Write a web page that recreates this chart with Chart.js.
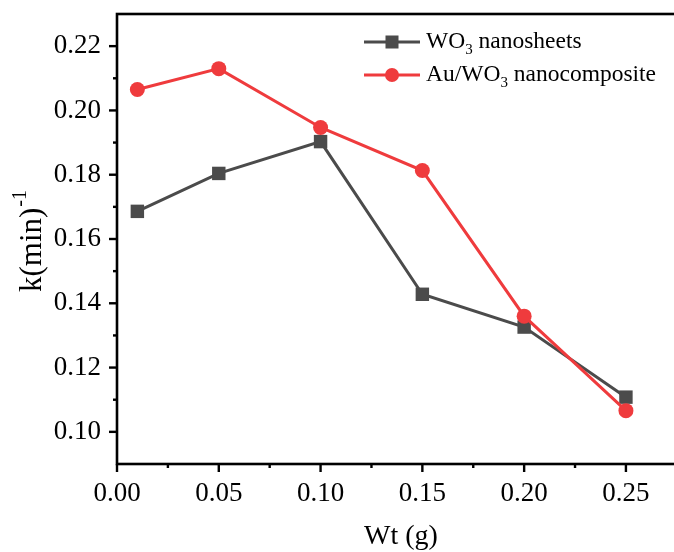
<!DOCTYPE html>
<html>
<head>
<meta charset="utf-8">
<script src="https://cdn.jsdelivr.net/npm/chart.js@4/dist/chart.umd.min.js"></script>
<style>
html,body{margin:0;padding:0;background:#fff;overflow:hidden;}
#wrap{width:700px;height:552px;}
</style>
</head>
<body>
<div id="wrap"><canvas id="c" width="700" height="552"></canvas></div>
<script>
// ---- data ----
const wt = [0.01, 0.05, 0.10, 0.15, 0.20, 0.25];
const wo3Nanosheets = [0.1686, 0.1804, 0.1903, 0.1428, 0.1326, 0.1108];
const auWo3Nanocomposite = [0.2065, 0.2130, 0.1947, 0.1813, 0.1360, 0.1066];
const xTickLabels = ['0.00', '0.05', '0.10', '0.15', '0.20', '0.25'];
const yTickLabels = ['0.10', '0.12', '0.14', '0.16', '0.18', '0.20', '0.22'];
const seriesNames = ['WO', 'Au/WO'];

const GRAY = '#4b4b4b';
const RED = '#ef3b3d';
const SERIF = '"Liberation Serif", "Times New Roman", serif';

function pts(ys){ return wt.map((x,i)=>({x:x, y:ys[i]})); }

const frame = {
  id:'frame',
  afterDraw(chart){
    const ctx = chart.ctx, a = chart.chartArea;
    const xs = chart.scales.x, ys = chart.scales.y;
    ctx.save();
    ctx.strokeStyle = '#000';
    ctx.lineWidth = 2.6;
    ctx.lineCap = 'square';
    ctx.strokeRect(a.left, a.top, a.right - a.left, a.bottom - a.top);
    ctx.lineCap = 'butt';
    ctx.lineWidth = 2.4;
    // x ticks
    xs.ticks.forEach(t=>{
      const v = t.value;
      const major = xTickLabels.includes(v.toFixed(2)) && Math.abs(Math.round(v*1000)%50) === 0;
      const px = xs.getPixelForValue(v);
      const len = major ? 8 : 4;
      ctx.beginPath(); ctx.moveTo(px, a.bottom); ctx.lineTo(px, a.bottom + len); ctx.stroke();
    });
    // y ticks
    ys.ticks.forEach(t=>{
      const v = t.value;
      if (v <= ys.min + 1e-9 || v >= ys.max - 1e-9) return;
      const major = yTickLabels.includes(v.toFixed(2)) && Math.round(v*100)%2 === 0;
      const py = ys.getPixelForValue(v);
      const len = major ? 8 : 4;
      ctx.beginPath(); ctx.moveTo(a.left, py); ctx.lineTo(a.left - len, py); ctx.stroke();
    });

    // axis titles
    ctx.fillStyle = '#000';
    ctx.font = '28px ' + SERIF;
    ctx.textAlign = 'center';
    ctx.textBaseline = 'alphabetic';
    ctx.fillText('Wt (g)', 401, 544);
    ctx.save();
    ctx.translate(41, 241);
    ctx.rotate(-Math.PI/2);
    ctx.textAlign = 'left';
    ctx.font = '31px ' + SERIF;
    const main = 'k(min)';
    const wMain = ctx.measureText(main).width;
    ctx.font = '20px ' + SERIF;
    const wSup = ctx.measureText('-1').width;
    const total = wMain + wSup + 1;
    ctx.font = '31px ' + SERIF;
    ctx.fillText(main, -total/2, 0);
    ctx.font = '20px ' + SERIF;
    ctx.fillText('-1', -total/2 + wMain + 1, -15);
    ctx.restore();

    // legend
    const rows = [
      {y:42, color:GRAY, style:'rect', pre:seriesNames[0], post:' nanosheets'},
      {y:75, color:RED, style:'circle', pre:seriesNames[1], post:' nanocomposite'}
    ];
    rows.forEach(r=>{
      ctx.strokeStyle = r.color; ctx.fillStyle = r.color; ctx.lineWidth = 3;
      ctx.beginPath(); ctx.moveTo(364, r.y); ctx.lineTo(420, r.y); ctx.stroke();
      if (r.style === 'rect') { ctx.fillRect(392 - 6.5, r.y - 6.5, 13, 13); }
      else { ctx.beginPath(); ctx.arc(392, r.y, 7, 0, Math.PI*2); ctx.fill(); }
      ctx.fillStyle = '#000';
      ctx.textAlign = 'left'; ctx.textBaseline = 'middle';
      let x = 426;
      ctx.font = '23.5px ' + SERIF;
      ctx.fillText(r.pre, x, r.y); x += ctx.measureText(r.pre).width;
      ctx.font = '15px ' + SERIF;
      ctx.fillText('3', x, r.y + 8); x += ctx.measureText('3').width;
      ctx.font = '23.5px ' + SERIF;
      ctx.fillText(r.post, x, r.y);
    });
    ctx.restore();
  }
};

new Chart(document.getElementById('c'), {
  type: 'scatter',
  data: {
    datasets: [
      { label: 'WO3 nanosheets', data: pts(wo3Nanosheets), showLine: true,
        borderColor: GRAY, backgroundColor: GRAY, borderWidth: 3,
        pointStyle: 'rect', pointRadius: 9.5, pointHoverRadius: 9.5, pointBorderWidth: 0, order: 1 },
      { label: 'Au/WO3 nanocomposite', data: pts(auWo3Nanocomposite), showLine: true,
        borderColor: RED, backgroundColor: RED, borderWidth: 3,
        pointStyle: 'circle', pointRadius: 7.5, pointHoverRadius: 7.5, pointBorderWidth: 0, order: 0 }
    ]
  },
  options: {
    responsive: false,
    devicePixelRatio: 1,
    animation: false,
    events: [],
    layout: { padding: { left: 0, top: 14, right: 13, bottom: 0 } },
    plugins: { legend: { display: false }, tooltip: { enabled: false } },
    scales: {
      x: {
        type: 'linear', min: 0, max: 0.28,
        grid: { display: false },
        border: { display: false },
        afterFit(s){ s.height = 88; s.paddingLeft = 0; s.paddingRight = 0; },
        afterBuildTicks(s){
          const t = []; for (let i = 0; i <= 11; i++) t.push({value: +(i*0.025).toFixed(3)}); s.ticks = t;
        },
        ticks: {
          autoSkip: false, maxRotation: 0, padding: 6, color: '#000',
          font: { family: SERIF, size: 27 },
          callback(v){ const s = (+v).toFixed(2); return (Math.round(v*1000)%50===0 && xTickLabels.includes(s)) ? s : ''; }
        }
      },
      y: {
        type: 'linear', min: 0.09, max: 0.23,
        grid: { display: false },
        border: { display: false },
        afterFit(s){ s.width = 117; s.paddingTop = 0; s.paddingBottom = 0; },
        afterBuildTicks(s){
          const t = []; for (let i = 9; i <= 23; i++) t.push({value: +(i*0.01).toFixed(2)}); s.ticks = t;
        },
        ticks: {
          autoSkip: false, padding: 8, color: '#000',
          font: { family: SERIF, size: 27 },
          callback(v){ const s = (+v).toFixed(2); return (Math.round(v*100)%2===0 && yTickLabels.includes(s)) ? s : ''; }
        }
      }
    }
  },
  plugins: [frame]
});
</script>
</body>
</html>
